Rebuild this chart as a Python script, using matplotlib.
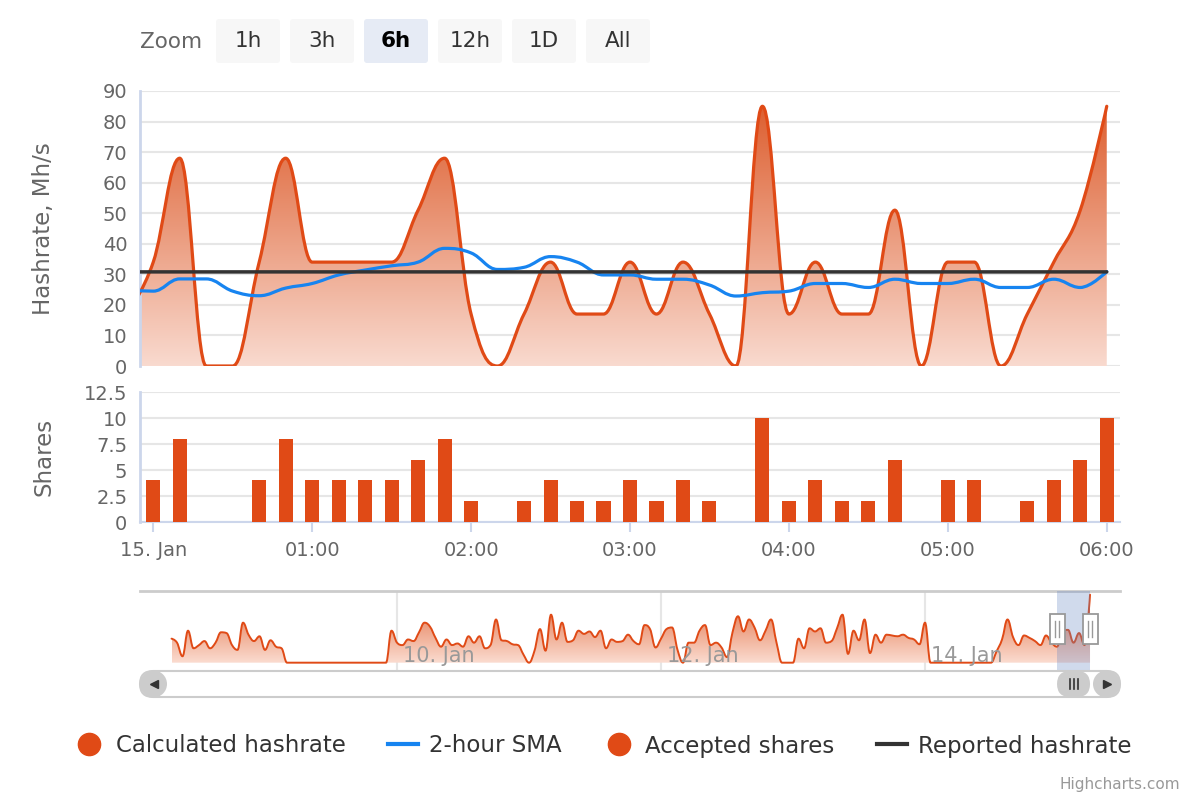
import numpy as np
import pandas as pd
import matplotlib
matplotlib.use('Agg')
import matplotlib.pyplot as plt
import matplotlib.dates as mdates
from matplotlib.path import Path
from matplotlib.patches import PathPatch, FancyBboxPatch, Rectangle, Circle
from matplotlib.lines import Line2D
from matplotlib.colors import LinearSegmentedColormap
import matplotlib.transforms as mtransforms

# --- data (10 minute slots, first one is just left of the visible range) ---
times = pd.date_range('2018-01-14 23:50', periods=38, freq='10min')
hashrate = [17, 34, 68, 0, 0, 34, 68, 34, 34, 34, 34, 51, 68, 17, 0, 17, 34, 17, 17,
            34, 17, 34, 17, 0, 85, 17, 34, 17, 17, 51, 0, 34, 34, 0, 17, 34, 51, 85]
shares = [2, 4, 8, 0, 0, 4, 8, 4, 4, 4, 4, 6, 8, 2, 0, 2, 4, 2, 2,
          4, 2, 4, 2, 0, 10, 2, 4, 2, 2, 6, 0, 4, 4, 0, 2, 4, 6, 10]
sma = [24.8, 24.5, 28.5, 28.5, 24.5, 23.0, 25.5, 27.0, 29.8, 31.4, 32.8, 34.0, 38.5,
       37.0, 31.6, 32.3, 35.8, 34.0, 29.8, 29.8, 28.4, 28.4, 26.5, 22.9, 24.0, 24.5,
       27.0, 27.0, 25.7, 28.4, 27.0, 27.0, 28.4, 25.7, 25.7, 28.4, 25.7, 30.9]
reported = [30.8, 30.8, 30.8, 30.8, 30.8, 30.8, 30.8, 30.8, 30.8, 30.8, 30.8, 30.8, 30.8,
            30.8, 30.8, 30.8, 30.8, 30.8, 30.8, 30.8, 30.8, 30.8, 30.8, 30.8, 30.8, 30.8,
            30.8, 30.8, 30.8, 30.8, 30.8, 30.8, 30.8, 30.8, 30.8, 30.8, 30.8, 30.8]

hour_ticks = pd.date_range('2018-01-15 00:00', periods=7, freq='h')
hour_labels = ['15. Jan', '01:00', '02:00', '03:00', '04:00', '05:00', '06:00']

# navigator: hourly averages over the whole week
nav_times = pd.date_range('2018-01-08 07:00', periods=168, freq='h')
nav_values = [30, 25, 8, 40, 18, 22, 27, 18, 25, 38,
              37, 22, 16, 50, 35, 27, 33, 16, 28, 20, 18,
              0, 0, 0, 0, 0, 0, 0, 0, 0, 0, 0, 0, 0, 0, 0, 0, 0, 0, 0,
              40, 25, 22, 29, 27, 38, 50, 45, 31, 20,
              29, 22, 24, 20, 33, 25, 33, 18, 22, 54,
              28, 27, 23, 22, 10, 0, 15, 42, 15, 60,
              29, 50, 26, 28, 40, 36, 39, 32, 40, 18,
              29, 26, 27, 35, 27, 23, 47, 42, 19, 30,
              42, 44, 16, 0, 25, 25, 40, 47, 22, 25,
              19, 7, 38, 58, 39, 54, 44, 28, 40, 54,
              25, 0, 0, 0, 30, 18, 43, 39, 43, 25,
              27, 43, 60, 11, 40, 28, 54, 12, 35, 25,
              35, 34, 33, 35, 31, 29, 23, 50, 0, 0,
              0, 0, 0, 0, 0, 0, 0, 0, 0, 0,
              14, 29, 54, 32, 22, 34, 31, 27, 22, 34,
              25, 20, 39, 41, 25, 37, 22, 85]
nav_ticks = pd.to_datetime(['2018-01-10', '2018-01-12', '2018-01-14'])
nav_labels = ['10. Jan', '12. Jan', '14. Jan']
selected = pd.to_datetime(['2018-01-15 00:00', '2018-01-15 06:00'])

zoom_buttons = ['1h', '3h', '6h', '12h', '1D', 'All']
active_button = '6h'
legend_labels = ['Calculated hashrate', '2-hour SMA', 'Accepted shares', 'Reported hashrate']

ORANGE = '#e04a16'
BLUE = '#1784f0'
DARK = '#333333'
GRID = '#e6e6e6'
AXIS = '#ccd6eb'
LABEL = '#666666'
area_cmap = LinearSegmentedColormap.from_list('area', ['#f9dacf', '#dd5f30'])
nav_cmap = LinearSegmentedColormap.from_list('nav', ['#fbdcd0', '#e06a3e'])


def num(t):
    return mdates.date2num(pd.DatetimeIndex(t).to_pydatetime())


def hc_spline(xs, ys, smooth=1.5):
    # same control points as a Highcharts spline
    n = len(xs)
    left = [None] * n
    right = [None] * n
    for i in range(1, n - 1):
        x, y = xs[i], ys[i]
        lx, ly = xs[i - 1], ys[i - 1]
        nx, ny = xs[i + 1], ys[i + 1]
        d = smooth + 1
        lcx = (smooth * x + lx) / d
        lcy = (smooth * y + ly) / d
        rcx = (smooth * x + nx) / d
        rcy = (smooth * y + ny) / d
        corr = (rcy - lcy) * (rcx - x) / (rcx - lcx) + y - rcy
        lcy += corr
        rcy += corr
        if lcy > ly and lcy > y:
            lcy = max(ly, y)
            rcy = 2 * y - lcy
        elif lcy < ly and lcy < y:
            lcy = min(ly, y)
            rcy = 2 * y - lcy
        if rcy > ny and rcy > y:
            rcy = max(ny, y)
            lcy = 2 * y - rcy
        elif rcy < ny and rcy < y:
            rcy = min(ny, y)
            lcy = 2 * y - rcy
        left[i] = (lcx, lcy)
        right[i] = (rcx, rcy)
    verts = [(xs[0], ys[0])]
    codes = [Path.MOVETO]
    for i in range(1, n):
        verts += [right[i - 1] or (xs[i - 1], ys[i - 1]), left[i] or (xs[i], ys[i]), (xs[i], ys[i])]
        codes += [Path.CURVE4] * 3
    return verts, codes


def spline_line(ax, xs, ys, color, lw, z):
    v, c = hc_spline(xs, ys)
    ax.add_patch(PathPatch(Path(v, c), fill=False, edgecolor=color, lw=lw, zorder=z,
                           capstyle='round', joinstyle='round'))


def spline_area(ax, xs, ys, cmap, lw):
    v, c = hc_spline(xs, ys)
    fill = PathPatch(Path(v + [(xs[-1], 0), (xs[0], 0), (xs[0], 0)],
                          c + [Path.LINETO, Path.LINETO, Path.CLOSEPOLY]),
                     facecolor='none', edgecolor='none')
    ax.add_patch(fill)
    grad = np.linspace(0, 1, 256).reshape(-1, 1)
    im = ax.imshow(grad, cmap=cmap, origin='lower', aspect='auto', zorder=2,
                   extent=[xs[0], xs[-1], 0, max(ys)])
    im.set_clip_path(fill)
    spline_line(ax, xs, ys, ORANGE, lw, 3)


fig = plt.figure(figsize=(12, 8), dpi=100)


def px_axes(l, t, r, b):
    return fig.add_axes([l / 1200, 1 - b / 800, (r - l) / 1200, (b - t) / 800])


ax_h = px_axes(140, 91, 1120, 366)
ax_s = px_axes(140, 392, 1120, 522)
ax_n = px_axes(140, 591, 1120, 671)

x = num(times)
x0 = num(pd.to_datetime(['2018-01-14 23:55']))[0]
x1 = num(pd.to_datetime(['2018-01-15 06:05']))[0]

# hashrate pane
spline_area(ax_h, x, hashrate, area_cmap, 2.3)
spline_line(ax_h, x, sma, BLUE, 2.3, 4)
spline_line(ax_h, x, reported, DARK, 2.5, 5)
ax_h.set_xlim(x0, x1)
ax_h.set_ylim(0, 90)
ax_h.set_yticks(range(0, 91, 10))
ax_h.set_xticks([])

# shares pane
ax_s.bar(x, shares, width=5.3 / 1440, color=ORANGE, zorder=3)
ax_s.set_xlim(x0, x1)
ax_s.set_ylim(0, 12.5)
ax_s.set_yticks([0, 2.5, 5, 7.5, 10, 12.5], ['0', '2.5', '5', '7.5', '10', '12.5'])
ax_s.set_xticks(num(hour_ticks), hour_labels)
ax_s.tick_params(axis='x', length=7.5, width=1.5, color=AXIS, pad=6,
                 labelsize=14, labelcolor=LABEL)

for ax in (ax_h, ax_s):
    for s in ax.spines.values():
        s.set_visible(False)
    ax.spines['left'].set_visible(True)
    ax.spines['left'].set_color(AXIS)
    ax.spines['left'].set_linewidth(2)
    ax.yaxis.grid(True, color=GRID, lw=1.5)
    ax.set_axisbelow(True)
    ax.tick_params(axis='y', length=0, pad=9, labelsize=14, labelcolor=LABEL)
ax_s.spines['bottom'].set_visible(True)
ax_s.spines['bottom'].set_color(AXIS)
ax_s.spines['bottom'].set_linewidth(1.5)

# navigator
nx = num(nav_times)
spline_area(ax_n, nx, nav_values, nav_cmap, 1.4)
start = nav_times[0]
ax_n.set_xlim(num(pd.DatetimeIndex([start - pd.Timedelta(hours=5.73)]))[0],
              num(pd.DatetimeIndex([start + pd.Timedelta(hours=172.45)]))[0])
ax_n.set_ylim(-10.4, 89.6)
ax_n.set_yticks([])
ax_n.set_xticks(num(nav_ticks))
ax_n.xaxis.grid(True, color=GRID, lw=1.5)
ax_n.set_axisbelow(True)
ax_n.tick_params(axis='x', length=0, labelbottom=False)
for s in ax_n.spines.values():
    s.set_visible(False)
ax_n.spines['top'].set_visible(True)
ax_n.spines['top'].set_color('#cccccc')
ax_n.spines['top'].set_linewidth(2)
lab_tr = mtransforms.offset_copy(
    mtransforms.blended_transform_factory(ax_n.transData, ax_n.transAxes), fig=fig, x=4.5, units='points')
for t, lab in zip(num(nav_ticks), nav_labels):
    ax_n.text(t, 0.19, lab, transform=lab_tr, ha='left', va='center', fontsize=15,
              color='#999999', zorder=6)
sel = num(selected)
ax_n.axvspan(sel[0], sel[1], color=(102 / 255, 133 / 255, 194 / 255, 0.3), lw=0, zorder=5)

# overlay in pixel coordinates for buttons, handles, scrollbar, texts
ov = fig.add_axes([0, 0, 1, 1])
ov.set_xlim(0, 1200)
ov.set_ylim(800, 0)
ov.axis('off')
ov.patch.set_alpha(0)

ov.text(140, 42, 'Zoom', ha='left', va='center', fontsize=15.5, color=LABEL)
for i, lab in enumerate(zoom_buttons):
    bx = 216 + 74 * i
    on = lab == active_button
    ov.add_patch(FancyBboxPatch((bx, 19), 64, 44, boxstyle='round,pad=0,rounding_size=3',
                                fc='#e6ebf5' if on else '#f7f7f7', ec='none'))
    ov.text(bx + 32, 41, lab, ha='center', va='center', fontsize=15.5,
            color='black' if on else DARK, fontweight='bold' if on else 'normal')

ov.text(44, 228.5, 'Hashrate, Mh/s', rotation=90, ha='center', va='center', fontsize=16.5, color=LABEL)
ov.text(44, 457, 'Shares', rotation=90, ha='center', va='center', fontsize=16.5, color=LABEL)

sp0 = ax_n.transData.transform((sel[0], 0))[0]
sp1 = ax_n.transData.transform((sel[1], 0))[0]

# scrollbar
ov.add_patch(FancyBboxPatch((140, 671), 980, 26, boxstyle='round,pad=0,rounding_size=13',
                            fc='white', ec='#cccccc', lw=1.5))
ov.add_patch(FancyBboxPatch((sp0, 671), sp1 - sp0, 26, boxstyle='round,pad=0,rounding_size=13',
                            fc='#cccccc', ec='none'))
for dx in (-4, 0, 4):
    ov.plot([(sp0 + sp1) / 2 + dx] * 2, [679, 689], color=DARK, lw=1.2)
for cx, mk in ((153.5, '<'), (1106.5, '>')):
    ov.add_patch(Circle((cx, 684), 13.5, fc='#cccccc', ec='none'))
    ov.plot([cx], [684], marker=mk, color=DARK, markersize=5.5, ls='none')

# navigator handles
for hx in (sp0, sp1):
    ov.add_patch(Rectangle((hx - 7.5, 614), 15, 30, fc='white', ec='#999999', lw=1.3, zorder=6))
    for dx in (-2, 2):
        ov.plot([hx + dx] * 2, [621, 637], color='#999999', lw=1, zorder=7)

ov.text(1180, 785, 'Highcharts.com', ha='right', va='center', fontsize=11, color='#999999')

handles = [Line2D([], [], marker='o', color=ORANGE, ls='none', markersize=16),
           Line2D([], [], color=BLUE, lw=3),
           Line2D([], [], marker='o', color=ORANGE, ls='none', markersize=16),
           Line2D([], [], color=DARK, lw=3)]
fig.legend(handles, legend_labels, loc='center', bbox_to_anchor=(0.5025, 0.0675), ncol=4,
           frameon=False, fontsize=16.5, handlelength=1.3, handletextpad=0.5,
           columnspacing=1.85, labelcolor=DARK)

fig.savefig('out.png', dpi=100)
